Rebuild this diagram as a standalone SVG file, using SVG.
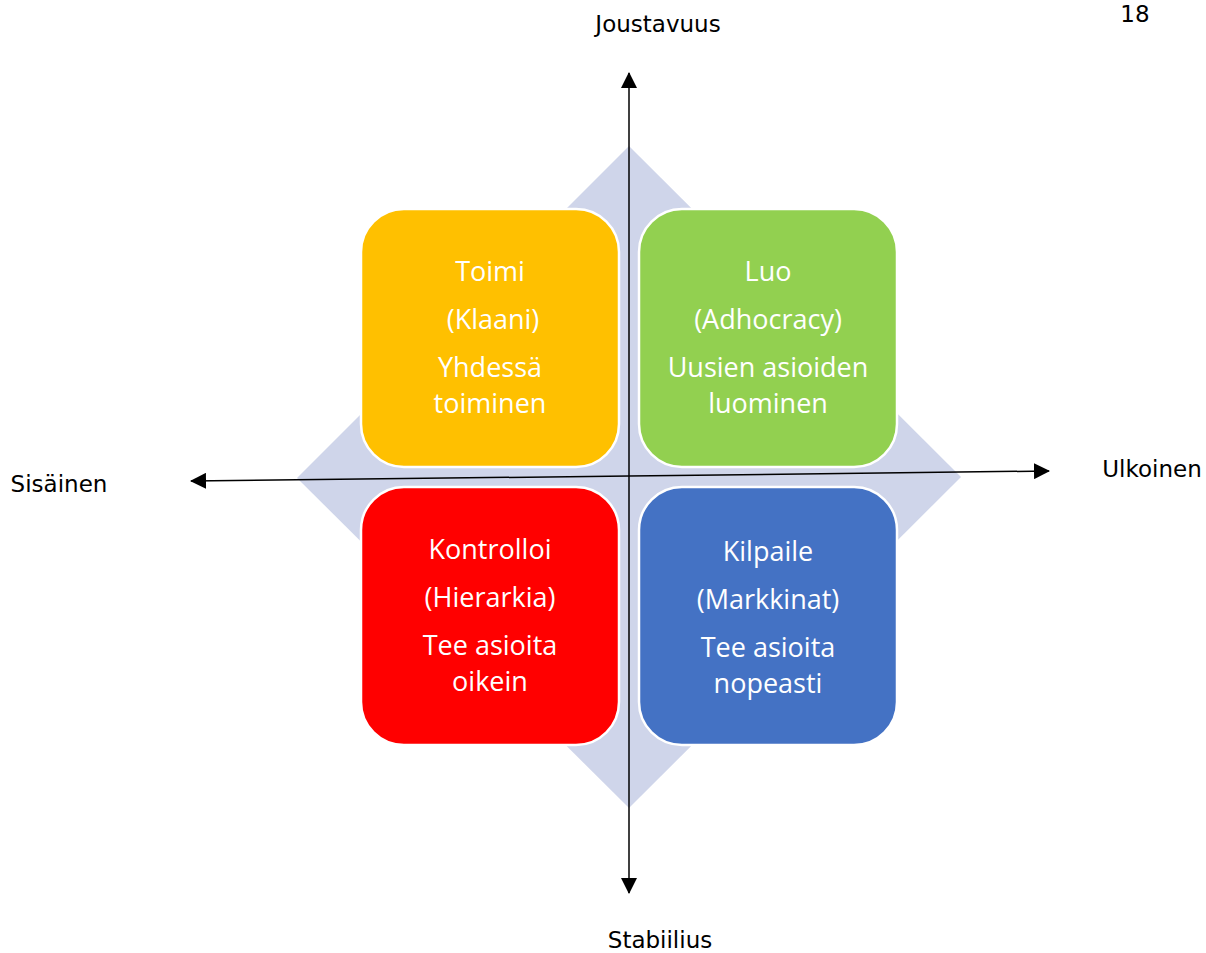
<svg xmlns="http://www.w3.org/2000/svg" width="1206" height="953" viewBox="0 0 1206 953">
<defs>
<style>
.box{stroke:#FFFFFF;stroke-width:2.5}
.bt{font-family:"Open Sans","Liberation Sans",sans-serif;font-size:27px;fill:#FFFFFF;text-anchor:middle}
.lbl{font-family:"DejaVu Sans","Liberation Sans",sans-serif;font-size:23px;fill:#000000;text-anchor:middle}
.axis{stroke:#000000;stroke-width:1.5;fill:none}
</style>
<marker id="arr" viewBox="0 0 16 16" refX="15" refY="8" markerWidth="16" markerHeight="16" markerUnits="userSpaceOnUse" orient="auto">
<path d="M0,0 L16,8 L0,16 Z" fill="#000000"/>
</marker>
</defs>
<rect width="1206" height="953" fill="#FFFFFF"/>
<polygon id="diamond" points="629,146 961,477 629,808 297,478" fill="#CFD5EA"/>
<g id="node-toimi">
<rect class="box" x="361" y="209" width="258" height="258" rx="43" ry="43" fill="#FFC000"/>
<text class="bt" x="490" y="281">Toimi</text>
<text class="bt" x="493" y="329">(Klaani)</text>
<text class="bt" x="490" y="377">Yhdessä</text>
<text class="bt" x="490" y="413">toiminen</text>
</g>
<g id="node-luo">
<rect class="box" x="639" y="209" width="258" height="258" rx="43" ry="43" fill="#92D050"/>
<text class="bt" x="768" y="281">Luo</text>
<text class="bt" x="768" y="329">(Adhocracy)</text>
<text class="bt" x="768" y="377">Uusien asioiden</text>
<text class="bt" x="768" y="413">luominen</text>
</g>
<g id="node-kontrolloi">
<rect class="box" x="361" y="487" width="258" height="258" rx="43" ry="43" fill="#FF0000"/>
<text class="bt" x="490" y="559">Kontrolloi</text>
<text class="bt" x="490" y="607">(Hierarkia)</text>
<text class="bt" x="490" y="655">Tee asioita</text>
<text class="bt" x="490" y="691">oikein</text>
</g>
<g id="node-kilpaile">
<rect class="box" x="639" y="487" width="258" height="258" rx="43" ry="43" fill="#4472C4"/>
<text class="bt" x="768" y="561">Kilpaile</text>
<text class="bt" x="768" y="609">(Markkinat)</text>
<text class="bt" x="768" y="657">Tee asioita</text>
<text class="bt" x="768" y="693">nopeasti</text>
</g>
<g id="connectors">
<line class="axis" x1="629" y1="475" x2="629" y2="73" marker-end="url(#arr)"/>
<line class="axis" x1="629" y1="475" x2="629" y2="893" marker-end="url(#arr)"/>
<line class="axis" x1="629" y1="476" x2="191" y2="481" marker-end="url(#arr)"/>
<line class="axis" x1="629" y1="476" x2="1049" y2="471" marker-end="url(#arr)"/>
</g>
<g id="labels">
<text class="lbl" x="658" y="32">Joustavuus</text>
<text class="lbl" x="660" y="948">Stabiilius</text>
<text class="lbl" x="59" y="492">Sisäinen</text>
<text class="lbl" x="1152" y="477">Ulkoinen</text>
<text class="lbl" x="1135" y="22">18</text>
</g>
</svg>
